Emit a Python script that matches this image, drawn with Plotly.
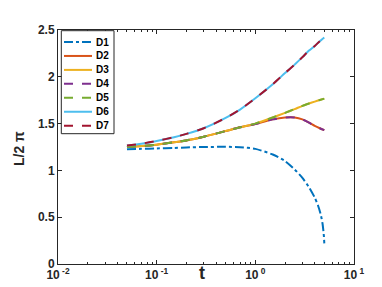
import plotly.graph_objects as go

t = [0.05, 0.07, 0.1, 0.15, 0.2, 0.3, 0.5, 0.7, 1.0, 1.5, 2.0, 2.5, 3.0, 3.5, 4.0, 4.5, 5.0]
t_d1 = [0.05, 0.07, 0.1, 0.15, 0.2, 0.3, 0.5, 0.7, 1.0, 1.5, 2.0, 2.5, 3.0, 3.5, 4.0, 4.3, 4.6, 4.8, 4.9, 4.96, 5.0]

d1 = [1.225, 1.23, 1.235, 1.24, 1.245, 1.25, 1.252, 1.248, 1.23, 1.17, 1.10, 1.01, 0.92, 0.82, 0.71, 0.63, 0.53, 0.43, 0.35, 0.29, 0.22]
d3 = [1.25, 1.26, 1.275, 1.30, 1.32, 1.36, 1.42, 1.46, 1.50, 1.565, 1.615, 1.655, 1.69, 1.715, 1.735, 1.752, 1.767]
d2 = [1.25, 1.26, 1.275, 1.30, 1.32, 1.36, 1.42, 1.46, 1.495, 1.545, 1.565, 1.565, 1.545, 1.51, 1.475, 1.45, 1.43]
d6 = [1.265, 1.285, 1.315, 1.355, 1.39, 1.45, 1.56, 1.65, 1.77, 1.92, 2.04, 2.13, 2.21, 2.28, 2.33, 2.38, 2.42]

names = ["D1", "D2", "D3", "D4", "D5", "D6", "D7"]
colors = ["#0072BD", "#D95319", "#EDB120", "#7E2F8E", "#77AC30", "#4DBEEE", "#A2142F"]
dashes = ["dashdot", "solid", "solid", "dash", "dash", "solid", "dash"]
xs_list = [t_d1, t, t, t, t, t, t]
ys_list = [d1, d2, d3, d2, d3, d6, d6]

x_tickvals = [0.01, 0.1, 1, 10]
x_ticktext = ["10<sup> -2</sup>", "10<sup> -1</sup>", "10<sup> 0</sup>", "10<sup> 1</sup>"]
y_tickvals = [0, 0.5, 1, 1.5, 2, 2.5]
y_ticktext = ["0", "0.5", "1", "1.5", "2", "2.5"]

W, H = 382, 287
ML, MR, MT, MB = 50, 36, 22, 31
PW, PH = W - ML - MR, H - MT - MB

def px(xp):
    return (xp - ML) / PW

def py(yp):
    return 1 - (yp - MT) / PH

fig = go.Figure()
for name, xs, ys, color, dash in zip(names, xs_list, ys_list, colors, dashes):
    fig.add_trace(go.Scatter(x=xs, y=ys, mode="lines", name=name, showlegend=False,
                             line=dict(color=color, dash=dash, width=2, shape="spline", smoothing=0.6)))

# manual legend (MATLAB-style compact box)
axcol = "#262626"
shapes = [dict(type="rect", xref="paper", yref="paper", x0=px(53.3), x1=px(106),
               y0=py(125.7), y1=py(22.7), line=dict(color=axcol, width=1), fillcolor="white",
               layer="above")]
annotations = []
for i, (name, color, dash) in enumerate(zip(names, colors, dashes)):
    yy = py(34 + 13.95 * i)
    shapes.append(dict(type="line", xref="paper", yref="paper", x0=px(56), x1=px(84),
                       y0=yy, y1=yy, line=dict(color=color, dash=dash, width=2), layer="above"))
    annotations.append(dict(text=name, xref="paper", yref="paper", x=px(85.5), y=yy,
                            xanchor="left", yanchor="middle", showarrow=False,
                            font=dict(size=10, color="black",
                                      family="Liberation Sans, Arial, sans-serif", weight="bold")))

minor_vals = [m * 10 ** e for e in (-2, -1, 0) for m in range(2, 10)]
font = dict(family="Liberation Sans, Arial, sans-serif", size=12, color=axcol)

annotations += [
    dict(text="t", xref="paper", yref="paper", x=px(194), y=py(253), xanchor="center",
         yanchor="top", showarrow=False, font=dict(size=18, color=axcol, weight="bold")),
    dict(text="L/2 π", xref="paper", yref="paper", x=px(11), y=py(141), textangle=-90,
         xanchor="center", yanchor="middle", showarrow=False,
         font=dict(size=14, color=axcol, weight="bold")),
]

fig.update_layout(
    width=W, height=H,
    margin=dict(l=ML, r=MR, t=MT, b=MB),
    paper_bgcolor="white", plot_bgcolor="white",
    font=font,
    showlegend=False,
    shapes=shapes,
    annotations=annotations,
    xaxis=dict(type="log", range=[-2, 1], tickvals=x_tickvals, ticktext=x_ticktext,
               ticks="inside", ticklen=4, tickcolor=axcol, showline=True, linecolor=axcol,
               linewidth=1, mirror="allticks", showgrid=False, zeroline=False,
               minor=dict(tickvals=minor_vals, ticks="inside", ticklen=2, tickcolor=axcol),
               tickfont=dict(size=12, color=axcol, weight="bold")),
    yaxis=dict(range=[0, 2.5], tickvals=y_tickvals, ticktext=y_ticktext,
               ticks="inside", ticklen=4, tickcolor=axcol, showline=True, linecolor=axcol,
               linewidth=1, mirror="allticks", showgrid=False, zeroline=False,
               tickfont=dict(size=12, color=axcol, weight="bold")),
)

fig.write_html("out.html")
